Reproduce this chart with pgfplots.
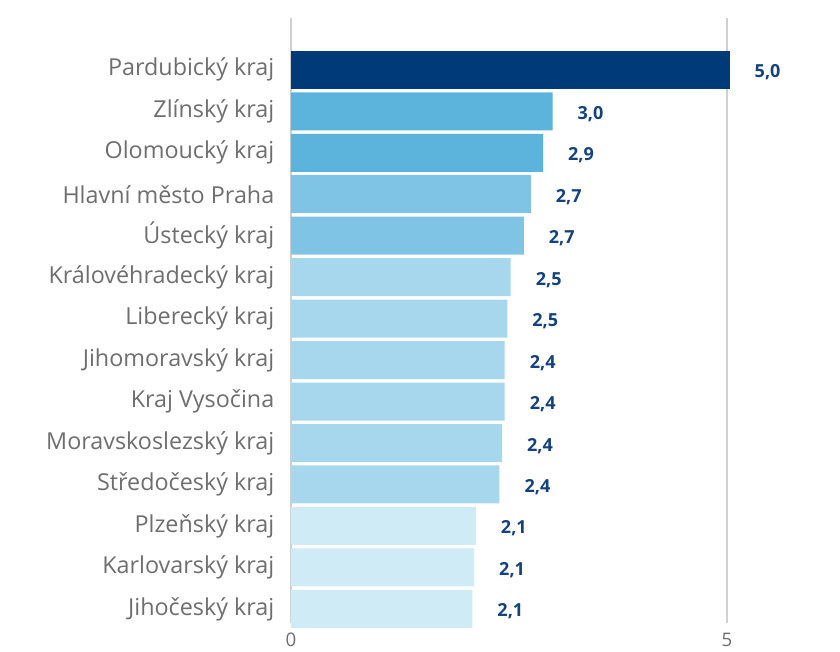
\documentclass[border=0pt]{standalone}
\usepackage{pgfplots}
\pgfplotsset{compat=1.18}
\usepackage{fontspec}
\setmainfont{Open Sans}
\definecolor{c1}{HTML}{003A78}
\definecolor{c2}{HTML}{5CB3DB}
\definecolor{c3}{HTML}{7FC4E4}
\definecolor{c4}{HTML}{A6D7ED}
\definecolor{c5}{HTML}{CFEBF6}
\definecolor{lab}{HTML}{14427F}
\definecolor{txt}{HTML}{6E6E6E}
\definecolor{grd}{HTML}{D0D0D0}
\begin{document}
\begin{tikzpicture}
\useasboundingbox (0,0) rectangle (630pt,489pt);
\begin{axis}[
  at={(218.25pt,21.75pt)}, anchor=south west,
  scale only axis, width=359.7pt, height=453.75pt,
  xbar, bar shift=0pt, bar width=28.5pt,
  xmin=0, xmax=5.5, ymin=-0.34, ymax=14.25,
  axis line style={draw=none}, clip=false,
  xtick={0,5}, xticklabels={0,5},
  ytick={0,...,13},
  yticklabels={Jihočeský kraj,Karlovarský kraj,Plzeňský kraj,Středočeský kraj,Moravskoslezský kraj,Kraj Vysočina,Jihomoravský kraj,Liberecký kraj,Královéhradecký kraj,Ústecký kraj,Hlavní město Praha,Olomoucký kraj,Zlínský kraj,Pardubický kraj},
  major tick length=0pt,
  yticklabel style={font=\fontsize{17.5}{20}\selectfont, text=txt, xshift=-9pt},
  xticklabel style={font=\fontsize{14}{16}\selectfont, text=txt, yshift=-4pt},
  point meta=explicit symbolic,
  nodes near coords,
  nodes near coords style={anchor=center, xshift=28.5pt, yshift=-2pt, text=lab, font=\fontsize{13.5}{15}\selectfont\bfseries},
]
\draw[grd, line width=1pt] (axis cs:0,-0.34) -- (axis cs:0,14.25);
\draw[grd, line width=1pt] (axis cs:5,-0.34) -- (axis cs:5,14.25);
\addplot[fill=c1, draw=none] table[x=x, y=y, meta=l] {
x y l
5.03 13 5,0
};
\addplot[fill=c2, draw=none] table[x=x, y=y, meta=l] {
x y l
3.00 12 3,0
2.89 11 2,9
};
\addplot[fill=c3, draw=none] table[x=x, y=y, meta=l] {
x y l
2.75 10 2,7
2.67 9 2,7
};
\addplot[fill=c4, draw=none] table[x=x, y=y, meta=l] {
x y l
2.52 8 2,5
2.48 7 2,5
2.45 6 2,4
2.45 5 2,4
2.42 4 2,4
2.39 3 2,4
};
\addplot[fill=c5, draw=none] table[x=x, y=y, meta=l] {
x y l
2.12 2 2,1
2.10 1 2,1
2.08 0 2,1
};
\end{axis}
\end{tikzpicture}
\end{document}
